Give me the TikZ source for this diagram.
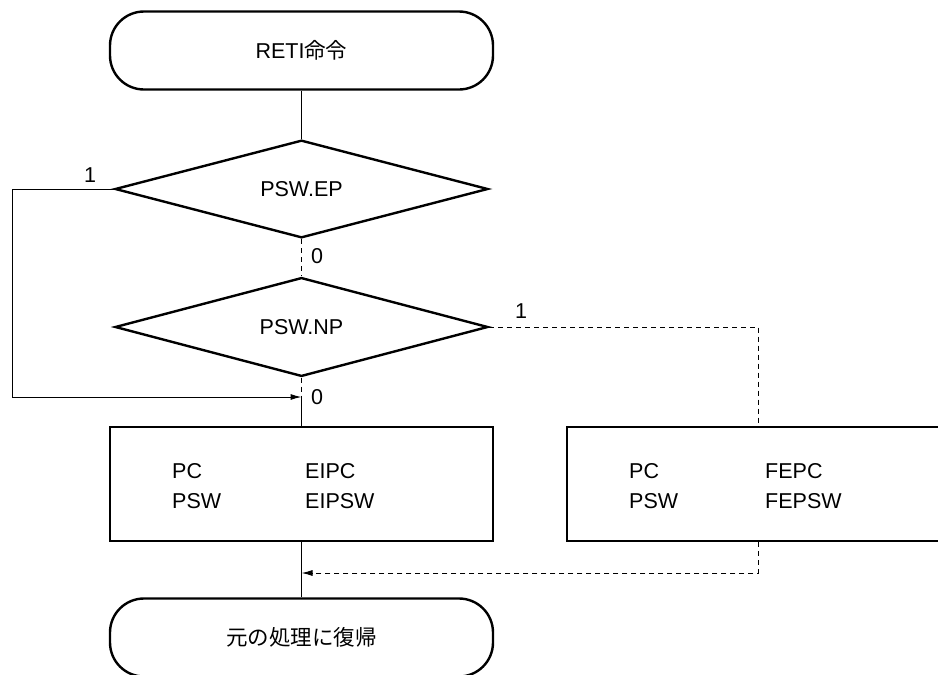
\documentclass[tikz,border=0pt]{standalone}
\usepackage{fontspec}
\setmainfont{Liberation Sans}
\newfontfamily\jpfont{Noto Sans CJK JP}
\usetikzlibrary{arrows.meta,shapes.geometric,positioning}

\begin{document}
\begin{tikzpicture}[
    x=1pt, y=-1pt,
    >={Latex[length=11pt,width=6pt]},
    font=\fontsize{21.5}{29}\selectfont,
    term/.style={draw, line width=2.4pt, rounded corners=34pt, minimum width=383pt, minimum height=78pt},
    cond/.style={draw, line width=2.4pt, diamond, inner sep=0pt, minimum width=373pt, minimum height=82pt},
    regbox/.style={draw, line width=2.4pt, minimum width=383pt, minimum height=114pt},
    flow/.style={line width=1pt},
    alt/.style={line width=1pt, dash pattern=on 5pt off 4pt},
    lbl/.style={inner sep=0pt},
  ]
    \clip (0,0) rectangle (938,675);

    \node[term]   (start) at (301.5,50.5)  {RETI{\jpfont 命令}};
    \node[cond]   (ep)    at (301.5,189)   {PSW.EP};
    \node[cond]   (np)    at (301.5,327)   {PSW.NP};
    \node[regbox] (eibox) at (301.5,484)   {};
    \node[regbox] (febox) at (758.5,484)   {};
    \node[term]   (ret)   at (301.5,637.5) {\jpfont 元の処理に復帰};

    \node[lbl, anchor=base west] (pca)  at (172,478.5) {PC};
    \node[lbl, anchor=base west] (pswa) at (172,508.5) {PSW};
    \node[lbl, anchor=base west] (eipc) at (305,478.5) {EIPC};
    \node[lbl, anchor=base west] (eipsw) at (305,508.5) {EIPSW};
    \node[lbl, anchor=base west] (pcb)  at (629,478.5) {PC};
    \node[lbl, anchor=base west] (pswb) at (629,508.5) {PSW};
    \node[lbl, anchor=base west] (fepc) at (765,478.5) {FEPC};
    \node[lbl, anchor=base west] (fepsw) at (765,508.5) {FEPSW};

    \coordinate (join)  at (301.5,397);
    \coordinate (loop)  at (12,397);
    \coordinate (back)  at (301.5,573);

    \draw[flow] (start) -- (ep);
    \draw[alt] (ep) -- (np);
    \draw[alt] (np) -- (join);
    \draw[flow] (join) -- (eibox);
    \draw[flow, ->] (ep.west) -| (loop) -- (join);
    \draw[alt] (np.east) -| (febox.north);
    \draw[flow] (eibox) -- (ret);
    \draw[alt, ->] (febox.south) |- (back);

    \node[lbl] (ep1) at (90,175)  {1};
    \node[lbl] (ep0) at (317,256) {0};
    \node[lbl] (np1) at (521,311) {1};
    \node[lbl] (np0) at (317,397) {0};
  \end{tikzpicture}
\end{document}
